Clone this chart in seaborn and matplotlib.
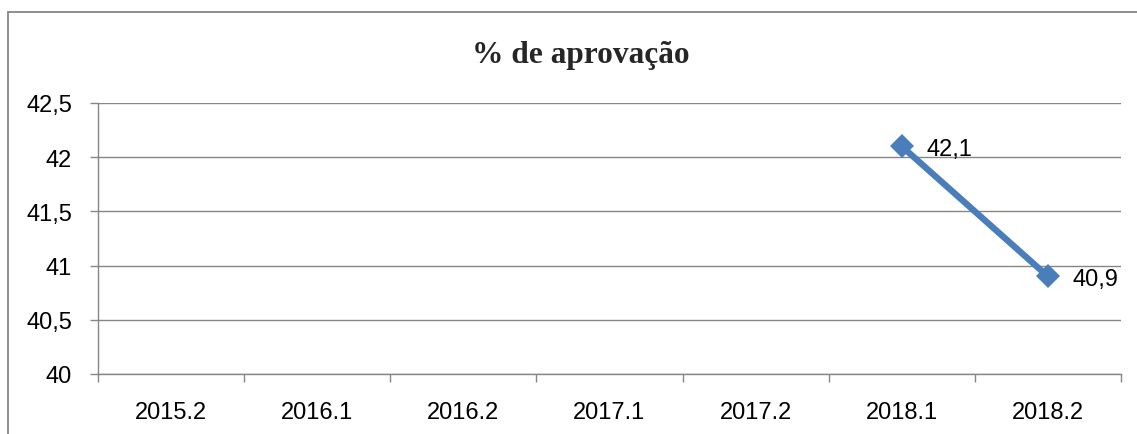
import numpy as np
import pandas as pd
import matplotlib
matplotlib.use("Agg")
import matplotlib.pyplot as plt
from matplotlib.patches import Rectangle
from matplotlib.ticker import FuncFormatter, FixedLocator
import seaborn as sns

# dados do gráfico
semestres = ["2015.2", "2016.1", "2016.2", "2017.1", "2017.2", "2018.1", "2018.2"]
aprovacao = [np.nan, np.nan, np.nan, np.nan, np.nan, 42.1, 40.9]
y_ticks = [40, 40.5, 41, 41.5, 42, 42.5]
titulo = "% de aprovação"

df = pd.DataFrame({"pos": np.arange(len(semestres)), "valor": aprovacao})

sns.set_style("white")
plt.rcParams["font.family"] = ["Liberation Sans", "DejaVu Sans"]

cinza = "#868686"
azul = "#4A7EBB"

fig = plt.figure(figsize=(11.37, 4.35), dpi=100)
ax = fig.add_axes([98 / 1137, 1 - 375 / 435, (1121 - 98) / 1137, (375 - 104) / 435])

sns.lineplot(data=df.dropna(), x="pos", y="valor", ax=ax, color=azul,
             linewidth=4.6, marker="D", markersize=12.5, markeredgewidth=0)

# rótulos dos pontos
for _, row in df.dropna().iterrows():
    ax.annotate(f"{row['valor']:.1f}".replace(".", ","), (row["pos"], row["valor"]),
                xytext=(18, -2), textcoords="offset points", va="center", ha="left",
                fontsize=17, color="black")

ax.set_xlim(-0.5, len(semestres) - 0.5)
ax.set_ylim(y_ticks[0], y_ticks[-1])
ax.set_yticks(y_ticks)
ax.yaxis.set_major_formatter(FuncFormatter(lambda v, p: f"{v:g}".replace(".", ",")))
ax.set_xticks(range(len(semestres)))
ax.set_xticklabels(semestres)
ax.xaxis.set_minor_locator(FixedLocator(np.arange(-0.5, len(semestres), 1.0)))

ax.grid(axis="y", color=cinza, linewidth=1.0)
ax.set_axisbelow(True)
ax.set_xlabel("")
ax.set_ylabel("")

for s in ["top", "right"]:
    ax.spines[s].set_visible(False)
for s in ["left", "bottom"]:
    ax.spines[s].set_color(cinza)
    ax.spines[s].set_linewidth(1.0)

ax.tick_params(axis="y", which="major", direction="out", length=5.8, width=1.0,
               color=cinza, pad=13, labelsize=17, labelcolor="black", left=True)
ax.tick_params(axis="x", which="major", length=0, pad=19.5, labelsize=17, labelcolor="black")
ax.tick_params(axis="x", which="minor", direction="out", length=5.8, width=1.0,
               color=cinza, bottom=True)

# título
fig.text(581 / 1137, 1 - 63 / 435, titulo, ha="center", va="baseline",
         fontsize=22.6, fontweight="bold", family=["Liberation Serif", "DejaVu Serif"])

# moldura do gráfico
fig.patches.append(Rectangle((8 / 1137, -0.1), 1.2, 1.1 - 13 / 435, transform=fig.transFigure,
                             fill=False, edgecolor=cinza, linewidth=1.3))

fig.savefig("out.png", dpi=100)
